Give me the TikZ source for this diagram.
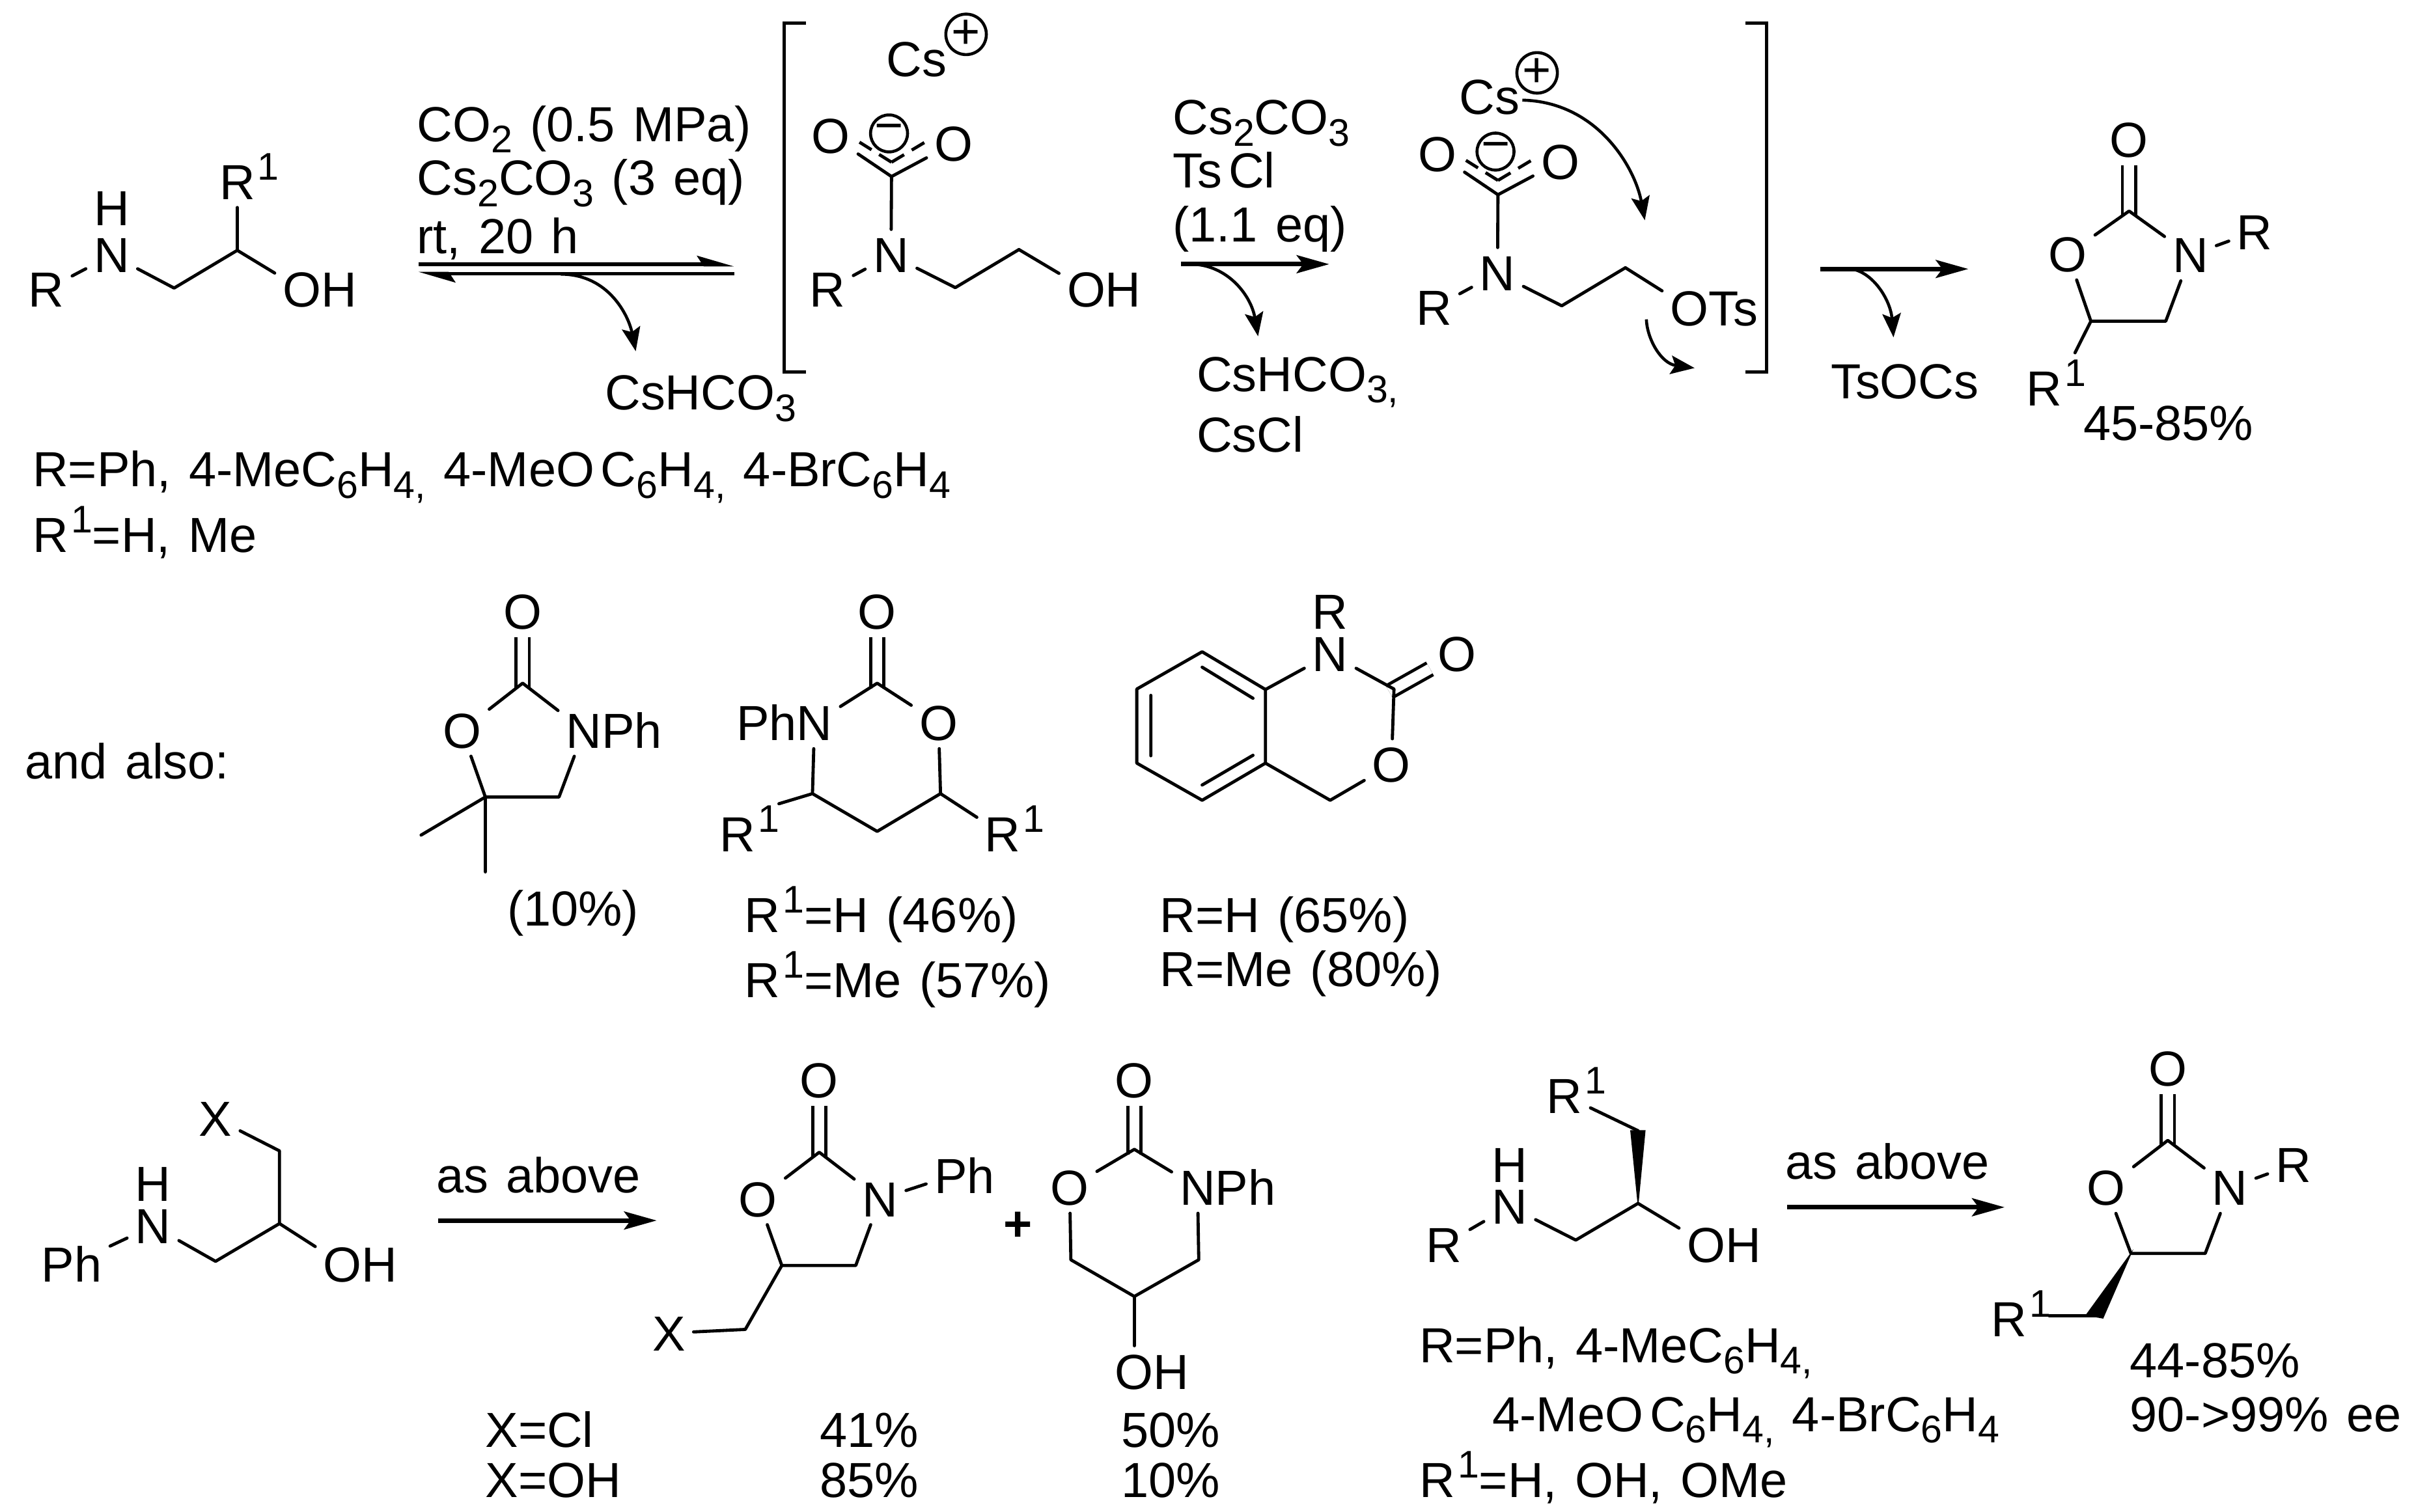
\documentclass[tikz,border=0pt]{standalone}
\usepackage{fontspec}
\setmainfont{Liberation Sans}[WordSpace=1.3]
\usetikzlibrary{arrows.meta}
\newcommand{\chemsub}[1]{\raisebox{-2.1pt}{\fontsize{7.1}{8}\selectfont #1}}
\newcommand{\chemsup}[1]{\kern.5pt\raisebox{3.6pt}{\fontsize{7.1}{8}\selectfont #1}}
\tikzset{
  every node/.append style={font=\fontsize{9.1}{10}\selectfont},
  atom/.style={inner sep=1.3pt,text height=6.5pt,text depth=0pt},
  txt/.style={anchor=base west,inner sep=0pt},
  charge/.style={draw,circle,line width=.55pt,inner sep=0pt,minimum size=.24cm},
  bond/.style={line width=.58pt,line cap=round,line join=round},
  dbl/.style={line width=.58pt,double,double distance=1.89pt,shorten <=-1pt},
  wedge/.style={fill=black,draw=black,line width=.2pt},
  brack/.style={line width=.6pt},
  rxn/.style={line width=.85pt,-{Stealth[length=6pt,width=3.3pt,inset=1.2pt]}},
  eq/.style={line width=.7pt,-{Stealth[harpoon,length=5.6pt,width=3.2pt,inset=1pt]}},
  curly/.style={line width=.55pt,-{Stealth[length=4.4pt,width=3.4pt,inset=.8pt]}},
  carbamate/.pic={
    \node[atom] (-ol) at (-39.4,-26.6) {O};
    \node[atom] (-or) at (40.4,-21.6) {O};
    \node[charge] (-neg) at (-1.6,-28) {−};
    \node[atom] (-n) at (-.3,51) {N};
    \node[atom] (-r) at (-41.6,73.4) {R};
    \coordinate (-c) at (0,0);
    \coordinate (-ci) at (0,-9.3);
    \coordinate (-cl) at (-20.8,-22.3);
    \coordinate (-cr) at (21.7,-22.3);
    \coordinate (-v1) at (41.4,72.1);
    \coordinate (-v2) at (82.7,47.4);
    \draw[bond] (-ol) -- (-c) -- (-or);
    \draw[bond,line cap=butt,dash pattern=on 2.7pt off 1.65pt] (-ci) -- (-cl);
    \draw[bond,line cap=butt,dash pattern=on 2.7pt off 1.65pt] (-ci) -- (-cr);
    \draw[bond] (-c) -- (-n) -- (-r);
    \draw[bond] (-n) -- (-v1) -- (-v2);
  }
}
\begin{document}
\begin{tikzpicture}[x=.01cm,y=-.01cm]
  \useasboundingbox (0,0) rectangle (1568,981.5);

  % amino alcohol
  \node[atom] (aR) at (30,188) {R};
  \node[atom] (aN) at (72.5,165.6) {N};
  \node[atom] (aH) at (72.5,135) {H};
  \node[atom] (aRone) at (154,118) {R\rlap{\chemsup{1}}};
  \node[atom] (aOH) at (196,188) {O\rlap{H}};
  \coordinate (a2) at (113,187);
  \coordinate (a3) at (154,162.5);
  \draw[bond] (aR) -- (aN) -- (a2) -- (a3) -- (aOH);
  \draw[bond] (a3) -- (aRone);
  \node[txt] (condA) at (270,91.7) {CO\chemsub{2} (0.5 MPa)};
  \node[txt] (condB) at (270,126.6) {Cs\chemsub{2}CO\chemsub{3} (3 eq)};
  \node[txt] (condC) at (270,164.4) {rt, 20 h};
  \coordinate (eqA) at (271.5,171.7);
  \coordinate (eqB) at (476.4,171.7);
  \coordinate (eqC) at (476.4,177.7);
  \coordinate (eqD) at (271.5,177.7);
  \draw[eq] (eqA) -- (eqB);
  \draw[eq] (eqC) -- (eqD);
  \coordinate (lossA) at (364,178);
  \coordinate (lossB) at (412.6,228);
  \draw[curly] (lossA) .. controls (395,178) and (408,205) .. (lossB);
  \node[txt] (bicA) at (392,266) {CsHCO\chemsub{3}};
  \node[txt] (scopeA) at (20.5,316) {R=Ph, 4-MeC\chemsub{6}H\chemsub{4,} 4-MeO\kern1.2pt C\chemsub{6}H\chemsub{4,} 4-BrC\chemsub{6}H\chemsub{4}};
  \node[txt] (scopeB) at (20.5,358.4) {R\chemsup{1}=H, Me};

  % brackets
  \coordinate (brA) at (523,15);
  \coordinate (brB) at (509,15);
  \coordinate (brC) at (509,241.3);
  \coordinate (brD) at (523,241.3);
  \coordinate (brE) at (1133,15);
  \coordinate (brF) at (1146.6,15);
  \coordinate (brG) at (1146.6,241.3);
  \coordinate (brH) at (1133,241.3);
  \draw[brack] (brA) -- (brB) -- (brC) -- (brD);
  \draw[brack] (brE) -- (brF) -- (brG) -- (brH);

  % first intermediate
  \node[txt] (csA) at (574.5,49.7) {Cs};
  \node[charge] (posA) at (627,22.3) {+};
  \pic (carbA) at (578.6,114.6) {carbamate};
  \node[atom] (bOH) at (705,188) {O\rlap{H}};
  \draw[bond] (carbA-v2) -- (bOH);
  \node[txt] (condD) at (760.5,87.3) {Cs\chemsub{2}CO\chemsub{3}};
  \node[txt] (condE) at (760.5,121.7) {Ts\kern1.2pt Cl};
  \node[txt] (condF) at (760.5,157) {(1.1 eq)};
  \coordinate (stepA) at (766.4,171.5);
  \coordinate (stepB) at (862.7,171.5);
  \draw[rxn] (stepA) -- (stepB);
  \coordinate (lossC) at (773.4,171.5);
  \coordinate (lossD) at (816.5,218.3);
  \draw[curly] (lossC) .. controls (797,172) and (812,192) .. (lossD);
  \node[txt] (bicB) at (776,254) {CsHCO\chemsub{3,}};
  \node[txt] (csCl) at (776,293.4) {CsCl};

  % second intermediate
  \node[txt] (csB) at (946.5,74) {Cs};
  \node[charge] (posB) at (997.6,47.3) {+};
  \pic (carbB) at (972.2,126.4) {carbamate};
  \node[atom] (bOTs) at (1096.4,200) {O\rlap{Ts}};
  \draw[bond] (carbB-v2) -- (bOTs);
  \coordinate (attA) at (988,65);
  \coordinate (attB) at (1067.5,143);
  \draw[curly] (attA) .. controls (1036,66) and (1061,108) .. (attB);
  \coordinate (leaveA) at (1068.5,207.3);
  \coordinate (leaveB) at (1099.8,238.9);
  \draw[curly] (leaveA) .. controls (1069,220) and (1078,236) .. (leaveB);

  % product
  \coordinate (stepC) at (1181.3,174.6);
  \coordinate (stepD) at (1277.5,174.6);
  \draw[rxn] (stepC) -- (stepD);
  \coordinate (lossE) at (1201.7,174.6);
  \coordinate (lossF) at (1228.9,219);
  \draw[curly] (lossE) .. controls (1216,177) and (1227,195) .. (lossF);
  \node[txt] (tsocs) at (1187.5,258.8) {TsOCs};
  \node[atom] (tO) at (1381.8,90.5) {O};
  \node[atom] (tOr) at (1342,165) {O};
  \node[atom] (tN) at (1421.6,165.6) {N};
  \node[atom] (tR) at (1463.3,150.4) {R};
  \node[atom] (tRone) at (1326.7,252) {R\rlap{\chemsup{1}}};
  \coordinate (tC) at (1381.8,137);
  \coordinate (tfive) at (1357,208.5);
  \coordinate (tfour) at (1405.6,208.5);
  \draw[dbl] (tC) -- (tO);
  \draw[bond] (tOr) -- (tC) -- (tN) -- (tfour) -- (tfive) -- (tOr);
  \draw[bond] (tN) -- (tR);
  \draw[bond,shorten >=2pt] (tfive) -- (tRone.north east);
  \node[txt] (yieldA) at (1351.5,286) {45-85\%};

  % and also
  \node[txt] (also) at (15.5,505.4) {and also:};
  \node[atom] (mO) at (339.2,396.9) {O};
  \node[atom] (mOr) at (299.8,474.2) {O};
  \node[atom] (mN) at (379,474.2) {N\rlap{Ph}};
  \coordinate (mC) at (339.2,443.5);
  \coordinate (mfive) at (315,517.4);
  \coordinate (mfour) at (362.8,517.4);
  \coordinate (mMeA) at (273.3,542.1);
  \coordinate (mMeB) at (315,566);
  \draw[dbl] (mC) -- (mO);
  \draw[bond] (mOr) -- (mC) -- (mN) -- (mfour) -- (mfive) -- (mOr);
  \draw[bond] (mMeA) -- (mfive) -- (mMeB);
  \node[txt] (yieldB) at (328.5,601) {(10\%)};

  \node[atom] (nO) at (569.3,396.9) {O};
  \node[atom] (nN) at (528.6,469.3) {\llap{Ph}N};
  \node[atom] (nOr) at (609.1,469.3) {O};
  \node[atom] (nRa) at (478.6,541.5) {R\rlap{\chemsup{1}}};
  \node[atom] (nRb) at (650.8,541.5) {R\rlap{\chemsup{1}}};
  \coordinate (nC) at (569.3,443.5);
  \coordinate (nfour) at (527.3,515.2);
  \coordinate (ncen) at (569.3,539.7);
  \coordinate (nfive) at (610.4,515.2);
  \draw[dbl] (nC) -- (nO);
  \draw[bond] (nN) -- (nC) -- (nOr) -- (nfive) -- (ncen) -- (nfour) -- (nN);
  \draw[bond] (nfive) -- (nRb);
  \draw[bond,shorten >=3pt] (nfour) -- (nRa.north east);
  \node[txt] (yieldC) at (482.5,605.3) {R\chemsup{1}=H (46\%)};
  \node[txt] (yieldD) at (482.5,647.6) {R\chemsup{1}=Me (57\%)};

  \node[atom] (pR) at (863.3,396.9) {R};
  \node[atom] (pN) at (863.3,424.6) {N};
  \node[atom] (pO) at (945.8,424.2) {O};
  \node[atom] (pOr) at (903.1,496.3) {O};
  \coordinate (pC) at (904.7,447.3);
  \coordinate (pCH) at (863.3,519.5);
  \coordinate (pA) at (821.3,447.6);
  \coordinate (pB) at (780.2,423.1);
  \coordinate (pD) at (737.8,447.3);
  \coordinate (pE) at (737.8,495.4);
  \coordinate (pF) at (780.2,519.5);
  \coordinate (pG) at (821.3,495.4);
  \coordinate (pHa) at (780.2,433.1);
  \coordinate (pHb) at (813.2,453.3);
  \coordinate (pJa) at (746.9,451.4);
  \coordinate (pJb) at (746.9,490.6);
  \coordinate (pKa) at (780.2,509.6);
  \coordinate (pKb) at (813.2,490.3);
  \draw[dbl] (pC) -- (pO);
  \draw[bond] (pA) -- (pB) -- (pD) -- (pE) -- (pF) -- (pG) -- cycle;
  \draw[bond] (pHa) -- (pHb) (pJa) -- (pJb) (pKa) -- (pKb);
  \draw[bond] (pA) -- (pN) -- (pC) -- (pOr) -- (pCH) -- (pG);
  \node[txt] (yieldE) at (752,605.3) {R=H (65\%)};
  \node[txt] (yieldF) at (752,640.4) {R=Me (80\%)};

  % lower left reaction
  \node[atom] (qX) at (139.9,726) {X};
  \node[atom] (qH) at (99.3,768.2) {H};
  \node[atom] (qN) at (99.3,795.8) {N};
  \node[atom] (qPh) at (46.6,820.6) {Ph};
  \node[atom] (qOH) at (222.3,820.6) {O\rlap{H}};
  \coordinate (qa) at (181.4,747.1);
  \coordinate (qb) at (181.4,794.3);
  \coordinate (qc) at (139.9,818.8);
  \draw[bond] (qX) -- (qa) -- (qb) -- (qc) -- (qN) -- (qPh);
  \draw[bond] (qb) -- (qOH);
  \node[txt] (aboveA) at (282.5,774.4) {as above};
  \coordinate (stepE) at (284.5,792.3);
  \coordinate (stepF) at (426.2,792.3);
  \draw[rxn] (stepE) -- (stepF);

  \node[atom] (dX) at (434.2,865.4) {X};
  \node[atom] (dO) at (531.7,701) {O};
  \node[atom] (dOr) at (492,778.3) {O};
  \node[atom] (dN) at (571.2,778.3) {N};
  \node[atom] (dPh) at (617,763.4) {P\rlap{h}};
  \coordinate (dC) at (531.7,748);
  \coordinate (dfive) at (507.4,821.5);
  \coordinate (dfour) at (555.4,821.5);
  \coordinate (dCH) at (483.7,863);
  \draw[dbl] (dC) -- (dO);
  \draw[bond] (dOr) -- (dC) -- (dN) -- (dfour) -- (dfive) -- (dOr);
  \draw[bond] (dN) -- (dPh);
  \draw[bond] (dfive) -- (dCH) -- (dX);
  \node[inner sep=0pt] (plus) at (660.7,796.2) {\textbf{+}};

  \node[atom] (eO) at (736.2,701) {O};
  \node[atom] (eOr) at (694.2,770.9) {O};
  \node[atom] (eN) at (777.2,770.9) {N\rlap{Ph}};
  \node[atom] (eOH) at (736.2,890.3) {O\rlap{H}};
  \coordinate (eC) at (736.2,746.1);
  \coordinate (ea) at (695,817.8);
  \coordinate (eb) at (736.2,841.6);
  \coordinate (ec) at (778,817.8);
  \draw[dbl] (eC) -- (eO);
  \draw[bond] (eOr) -- (eC) -- (eN) -- (ec) -- (eb) -- (ea) -- (eOr);
  \draw[bond] (eb) -- (eOH);
  \node[txt] (xcl) at (314.3,939.4) {X=Cl};
  \node[txt] (xoh) at (314.3,972) {X=OH};
  \node[txt] (yieldG) at (531.5,939.4) {41\%};
  \node[txt] (yieldH) at (531.5,972) {85\%};
  \node[txt] (yieldI) at (727,939.4) {50\%};
  \node[txt] (yieldJ) at (727,972) {10\%};

  % lower right reaction
  \node[atom] (gRone) at (1015.4,711.1) {R\rlap{\chemsup{1}}};
  \node[atom] (gH) at (979.8,755.9) {H};
  \node[atom] (gN) at (979.8,783.2) {N};
  \node[atom] (gR) at (937.2,807.9) {R};
  \node[atom] (gOH) at (1107.4,807.9) {O\rlap{H}};
  \coordinate (ga) at (1063.1,734);
  \coordinate (gaL) at (1058.4,734);
  \coordinate (gaR) at (1067.6,734);
  \coordinate (gb) at (1063.1,781.2);
  \coordinate (gc) at (1022.7,805);
  \fill[wedge] (gb) -- (gaL) -- (gaR) -- cycle;
  \draw[bond] (gRone) -- (ga);
  \draw[bond] (gR) -- (gN) -- (gc) -- (gb) -- (gOH);
  \node[txt] (aboveB) at (1158,765.2) {as above};
  \coordinate (stepG) at (1160,783.7);
  \coordinate (stepH) at (1301,783.7);
  \draw[rxn] (stepG) -- (stepH);

  \node[atom] (fO) at (1406.9,693.5) {O};
  \node[atom] (fOr) at (1367,771) {O};
  \node[atom] (fN) at (1447.3,771) {N};
  \node[atom] (fR) at (1488.5,755.9) {R};
  \node[atom] (fRone) at (1304,856.2) {R\rlap{\chemsup{1}}};
  \coordinate (fC) at (1406.9,740.3);
  \coordinate (ffive) at (1383,813.7);
  \coordinate (ffour) at (1431.2,813.7);
  \coordinate (fa) at (1360,854.3);
  \coordinate (faL) at (1354,853.7);
  \coordinate (faR) at (1364.8,855.6);
  \coordinate (fb) at (1330,854.3);
  \draw[dbl] (fC) -- (fO);
  \draw[bond] (fOr) -- (fC) -- (fN) -- (ffour) -- (ffive) -- (fOr);
  \draw[bond] (fN) -- (fR);
  \fill[wedge] (ffive) -- (faL) -- (faR) -- cycle;
  \draw[bond] (fa) -- (fb);
  \node[txt] (yieldK) at (1381.7,894.2) {44-85\%};
  \node[txt] (yieldL) at (1381.7,929.3) {90->99\% ee};
  \node[txt] (scopeC) at (920.5,884.5) {R=Ph, 4-MeC\chemsub{6}H\chemsub{4,}};
  \node[txt] (scopeD) at (968,929.3) {4-MeO\kern1.2pt C\chemsub{6}H\chemsub{4,} 4-BrC\chemsub{6}H\chemsub{4}};
  \node[txt] (scopeE) at (920.5,972) {R\chemsup{1}=H, OH, OMe};
\end{tikzpicture}
\end{document}
